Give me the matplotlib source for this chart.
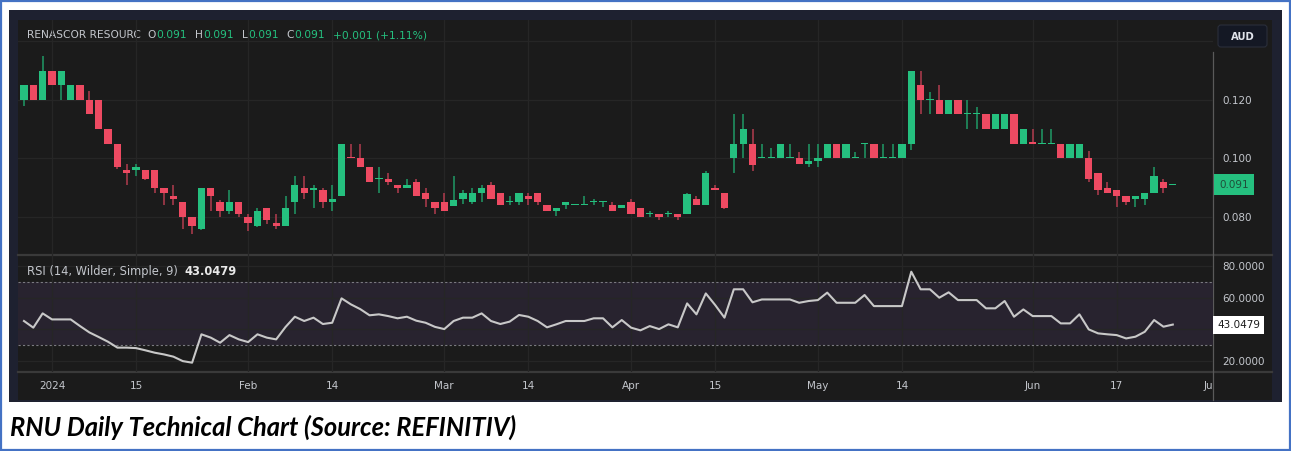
import matplotlib
matplotlib.use("Agg")
import matplotlib.pyplot as plt
import matplotlib.transforms as mtransforms
import numpy as np
import pandas as pd
from matplotlib.patches import Rectangle, FancyBboxPatch

W, H = 1291, 451

# ASX trading days shown on the chart (27 Dec 2023 -> 25 Jun 2024)
holidays = ["2024-01-01", "2024-01-26", "2024-03-29", "2024-04-01", "2024-04-25", "2024-06-10"]
dates = pd.bdate_range("2023-12-27", "2024-06-25")
dates = dates[~dates.isin(pd.to_datetime(holidays))]

opens = [0.120, 0.125, 0.120, 0.130, 0.125, 0.120, 0.125, 0.120, 0.120, 0.110,
         0.105, 0.096, 0.096, 0.096, 0.096, 0.090, 0.0872, 0.085, 0.080, 0.076,
         0.090, 0.085, 0.082, 0.085, 0.080, 0.077, 0.083, 0.078, 0.077, 0.085,
         0.090, 0.089, 0.089, 0.085, 0.087, 0.1005, 0.100, 0.097, 0.093, 0.093,
         0.091, 0.090, 0.092, 0.088, 0.085, 0.085, 0.0838, 0.086, 0.085, 0.088,
         0.091, 0.088, 0.085, 0.085, 0.087, 0.088, 0.084, 0.082, 0.084, 0.084,
         0.084, 0.085, 0.085, 0.084, 0.083, 0.085, 0.083, 0.081, 0.081, 0.081,
         0.081, 0.081, 0.086, 0.084, 0.090, 0.088, 0.100, 0.105, 0.105, 0.100,
         0.100, 0.100, 0.100, 0.100, 0.098, 0.099, 0.100, 0.105, 0.100, 0.100,
         0.105, 0.105, 0.100, 0.100, 0.100, 0.105, 0.125, 0.120, 0.120, 0.115,
         0.120, 0.115, 0.115, 0.115, 0.110, 0.110, 0.115, 0.105, 0.1055, 0.105,
         0.105, 0.105, 0.100, 0.100, 0.100, 0.095, 0.090, 0.089, 0.087, 0.086,
         0.086, 0.088, 0.092, 0.091]
highs = [0.125, 0.125, 0.135, 0.130, 0.130, 0.125, 0.125, 0.123, 0.120, 0.110,
         0.105, 0.098, 0.098, 0.096, 0.096, 0.090, 0.091, 0.085, 0.080, 0.090,
         0.090, 0.0858, 0.089, 0.085, 0.081, 0.083, 0.083, 0.081, 0.087, 0.094,
         0.094, 0.091, 0.090, 0.091, 0.105, 0.105, 0.105, 0.097, 0.097, 0.095,
         0.091, 0.093, 0.093, 0.090, 0.085, 0.088, 0.094, 0.089, 0.090, 0.091,
         0.092, 0.088, 0.087, 0.088, 0.088, 0.088, 0.084, 0.083, 0.085, 0.084,
         0.087, 0.086, 0.085, 0.085, 0.084, 0.086, 0.083, 0.082, 0.081, 0.082,
         0.081, 0.088, 0.087, 0.0955, 0.091, 0.088, 0.115, 0.115, 0.110, 0.105,
         0.1035, 0.105, 0.105, 0.102, 0.105, 0.105, 0.105, 0.105, 0.105, 0.102,
         0.105, 0.105, 0.105, 0.105, 0.105, 0.130, 0.130, 0.1225, 0.125, 0.120,
         0.120, 0.120, 0.1175, 0.115, 0.115, 0.115, 0.115, 0.110, 0.110, 0.110,
         0.110, 0.105, 0.105, 0.105, 0.1025, 0.095, 0.092, 0.089, 0.087, 0.087,
         0.088, 0.097, 0.093, 0.091]
lows = [0.118, 0.120, 0.120, 0.125, 0.120, 0.120, 0.120, 0.115, 0.110, 0.105,
        0.0962, 0.091, 0.094, 0.0925, 0.088, 0.084, 0.084, 0.076, 0.074, 0.0755,
        0.082, 0.080, 0.081, 0.080, 0.075, 0.0765, 0.0775, 0.076, 0.077, 0.081,
        0.086, 0.083, 0.083, 0.082, 0.087, 0.100, 0.097, 0.092, 0.088, 0.091,
        0.088, 0.090, 0.087, 0.0835, 0.081, 0.082, 0.0838, 0.0845, 0.0845, 0.085,
        0.086, 0.084, 0.084, 0.084, 0.084, 0.084, 0.082, 0.0804, 0.0825, 0.084,
        0.084, 0.084, 0.0832, 0.082, 0.083, 0.081, 0.080, 0.080, 0.079, 0.080,
        0.079, 0.081, 0.084, 0.084, 0.089, 0.0825, 0.095, 0.100, 0.0955, 0.100,
        0.100, 0.100, 0.100, 0.098, 0.097, 0.097, 0.100, 0.100, 0.100, 0.100,
        0.100, 0.100, 0.100, 0.100, 0.100, 0.103, 0.115, 0.115, 0.115, 0.115,
        0.115, 0.110, 0.110, 0.110, 0.110, 0.110, 0.105, 0.105, 0.105, 0.105,
        0.105, 0.100, 0.100, 0.100, 0.092, 0.0873, 0.088, 0.0833, 0.084, 0.0835,
        0.084, 0.088, 0.088, 0.091]
closes = [0.125, 0.120, 0.130, 0.125, 0.130, 0.125, 0.120, 0.115, 0.110, 0.105,
          0.097, 0.095, 0.097, 0.093, 0.090, 0.088, 0.086, 0.080, 0.077, 0.090,
          0.087, 0.082, 0.085, 0.081, 0.078, 0.082, 0.079, 0.077, 0.083, 0.091,
          0.088, 0.090, 0.085, 0.086, 0.105, 0.100, 0.097, 0.092, 0.093, 0.092,
          0.090, 0.091, 0.087, 0.086, 0.083, 0.082, 0.0857, 0.088, 0.088, 0.090,
          0.086, 0.084, 0.085, 0.088, 0.086, 0.085, 0.082, 0.083, 0.085, 0.084,
          0.084, 0.085, 0.085, 0.082, 0.084, 0.081, 0.080, 0.081, 0.080, 0.081,
          0.080, 0.0878, 0.084, 0.095, 0.089, 0.083, 0.105, 0.110, 0.0977, 0.100,
          0.100, 0.105, 0.100, 0.098, 0.099, 0.100, 0.105, 0.100, 0.105, 0.100,
          0.105, 0.100, 0.100, 0.100, 0.105, 0.130, 0.120, 0.120, 0.115, 0.120,
          0.115, 0.115, 0.115, 0.110, 0.115, 0.115, 0.105, 0.110, 0.105, 0.105,
          0.105, 0.100, 0.105, 0.105, 0.093, 0.089, 0.088, 0.087, 0.085, 0.087,
          0.088, 0.094, 0.090, 0.091]
rsi = [45.3, 41.1, 50.1, 46.3, 46.3, 46.3, 42.1, 38.1, 35.2, 32.2,
       28.5, 28.5, 28.2, 26.8, 25.3, 24.2, 22.8, 20.0, 19.0, 36.9,
       34.8, 31.6, 36.4, 33.7, 32.0, 36.9, 34.8, 33.7, 41.5, 48.0,
       45.3, 47.4, 43.4, 44.2, 59.6, 55.8, 52.8, 48.9, 49.5, 48.4,
       47.0, 48.0, 45.5, 44.2, 41.6, 40.2, 45.3, 47.4, 47.4, 50.1,
       45.3, 43.4, 44.9, 49.1, 48.0, 45.3, 41.3, 43.2, 45.3, 45.3,
       45.3, 47.0, 47.0, 41.3, 45.9, 41.1, 39.4, 42.1, 40.2, 43.2,
       41.3, 56.4, 49.5, 62.7, 55.4, 47.4, 65.3, 65.3, 57.1, 58.9,
       58.9, 58.9, 58.9, 56.8, 57.9, 58.5, 63.2, 56.8, 56.8, 56.8,
       61.7, 54.7, 54.7, 54.7, 54.7, 76.4, 65.3, 65.3, 60.0, 63.4,
       58.5, 58.5, 58.5, 53.3, 53.3, 57.9, 48.0, 52.6, 48.4, 48.4,
       48.4, 43.8, 43.8, 49.5, 40.0, 37.5, 36.9, 36.4, 34.3, 35.4,
       38.5, 45.9, 41.7, 43.0479]

tick_dates = ["2024-01-02", "2024-01-15", "2024-02-01", "2024-02-14", "2024-03-01", "2024-03-14",
              "2024-04-02", "2024-04-15", "2024-05-01", "2024-05-14", "2024-06-03", "2024-06-17"]
tick_labels = ["2024", "15", "Feb", "14", "Mar", "14", "Apr", "15", "May", "14", "Jun", "17"]
price_ticks = [0.080, 0.100, 0.120, 0.140]
price_labels = ["0.080", "0.100", "0.120", ""]
rsi_ticks = [20, 40, 60, 80]
rsi_labels = ["20.0000", "", "60.0000", "80.0000"]

GREEN = "#25c07f"
RED = "#ee4a62"
BG = "#1b1b1b"
FRAME = "#1e2130"
TXT = "#c3c6cc"

plt.rcParams["font.family"] = ["DejaVu Sans"]

pos = np.arange(len(dates))
o, h, l, c = map(np.array, (opens, highs, lows, closes))
up = c >= o
colors = np.where(up, GREEN, RED)
wick_colors = np.where(up, "#1f9a66", "#b23c4e")

tick_pos = [dates.get_loc(pd.Timestamp(d)) for d in tick_dates]
jul_pos = len(dates) - 1 + np.busday_count("2024-06-25", "2024-07-01")

# pixel geometry of the TradingView panes
bar_px = 9.34
x_first = 52 - 3 * bar_px  # pixel of first bar (27 Dec)
xlim = ((18 - x_first) / bar_px, (1213 - x_first) / bar_px)

fig = plt.figure(figsize=(W / 100, H / 100), dpi=100)
fig.patch.set_facecolor("white")


def px_axes(x0, y0, x1, y1):
    ax = fig.add_axes([x0 / W, 1 - y1 / H, (x1 - x0) / W, (y1 - y0) / H])
    ax.set_facecolor("none")
    return ax


# background layer in pixel coordinates
bg = fig.add_axes([0, 0, 1, 1])
bg.set_xlim(0, W)
bg.set_ylim(H, 0)
bg.axis("off")
bg.add_patch(Rectangle((1, 1), W - 2.5, H - 2.5, fc="none", ec="#4472c4", lw=1.6))
bg.add_patch(Rectangle((9, 10), 1273, 392, fc=FRAME, ec="none"))
bg.add_patch(Rectangle((18, 20), 1254, 380, fc=BG, ec="none"))
bg.plot([18, 1272], [255, 255], color="#3a3a3a", lw=1.6)
bg.plot([18, 1272], [372, 372], color="#3a3a3a", lw=1.6)
bg.plot([1213, 1213], [52, 400], color="#5a5a5a", lw=0.9)
bg.add_patch(FancyBboxPatch((1218, 25), 49, 22, boxstyle="round,pad=0,rounding_size=3",
                            fc="#141824", ec="#2a2e3a", lw=0.8))
bg.text(1242.5, 36.5, "AUD", color="#e0e3ea", fontsize=7.2, fontweight="bold",
        ha="center", va="center")
bg.text(10, 427, "RNU Daily Technical Chart (Source: REFINITIV)", fontsize=18.4,
        fontweight="bold", style="italic", family=["Lato", "DejaVu Sans"],
        color="black", ha="left", va="center")

# ---- price pane
ax = px_axes(18, 20, 1213, 255)
ax.set_xlim(*xlim)
ax.set_ylim(0.1 - (255 - 158.3) / 2925, 0.1 + (158.3 - 20) / 2925)
ax.vlines(pos, l, h, colors=wick_colors, lw=1.1, zorder=2)
ax.bar(pos, np.maximum(np.abs(c - o), 0.00035), bottom=np.minimum(o, c), width=0.78,
       color=colors, edgecolor="none", zorder=3)
ax.set_xticks(tick_pos)
ax.set_xticklabels([])
ax.yaxis.tick_right()
ax.set_yticks(price_ticks)
ax.set_yticklabels(price_labels)
ax.tick_params(length=0, pad=7, labelcolor=TXT, labelsize=7.5)
ax.tick_params(axis="x", length=0)
ax.grid(color="#262626", lw=0.9)
ax.set_axisbelow(True)
for s in ax.spines.values():
    s.set_visible(False)
lab_tr = mtransforms.offset_copy(ax.get_yaxis_transform(), fig=fig, x=6, y=0, units="dots")
ax.text(1.0, closes[-1], f"{closes[-1]:.3f}", transform=lab_tr, fontsize=7.5, color="#1f4f3a",
        ha="left", va="center", bbox=dict(boxstyle="square,pad=0.5", fc=GREEN, ec="none"))

# header (legend) line
change = closes[-1] - closes[-2]
segs = [("RENASCOR RESOURC", TXT, 0), ("O", TXT, 5), (f"{opens[-1]:.3f}", GREEN, 0),
        ("H", TXT, 6), (f"{highs[-1]:.3f}", GREEN, 0), ("L", TXT, 6), (f"{lows[-1]:.3f}", GREEN, 0),
        ("C", TXT, 6), (f"{closes[-1]:.3f}", GREEN, 0),
        (f"+{change:.3f} (+{change / closes[-2] * 100:.2f}%)", GREEN, 6)]
prev = None
for text, col, gap in segs:
    if prev is None:
        prev = bg.text(27, 35, text, color=col, fontsize=7.7, ha="left", va="center")
    else:
        prev = bg.annotate(text, xy=(1, 0), xycoords=prev, xytext=(gap, 0),
                           textcoords="offset points", color=col, fontsize=7.7,
                           ha="left", va="bottom")

# ---- RSI pane
ar = px_axes(18, 255, 1213, 372)
ar.set_xlim(*xlim)
ar.set_ylim(60 - (372 - 297.7) / 1.585, 60 + (297.7 - 255) / 1.585)
ar.axhspan(30, 70, color="#28232f", lw=0, zorder=0)
ar.axhline(70, color="#7a7a80", lw=0.8, ls=(0, (2, 2)), zorder=1)
ar.axhline(30, color="#7a7a80", lw=0.8, ls=(0, (2, 2)), zorder=1)
ar.plot(pos, rsi, color="#c8c8c8", lw=1.5, zorder=3)
ar.set_xticks(tick_pos)
ar.set_xticklabels([])
ar.yaxis.tick_right()
ar.set_yticks(rsi_ticks)
ar.set_yticklabels(rsi_labels)
ar.tick_params(length=0, pad=7, labelcolor=TXT, labelsize=7.5)
ar.grid(color="#262626", lw=0.9)
ar.set_axisbelow(True)
for s in ar.spines.values():
    s.set_visible(False)
rsi_tr = mtransforms.offset_copy(ar.get_yaxis_transform(), fig=fig, x=4, y=0, units="dots")
ar.text(1.0, rsi[-1], f"{rsi[-1]:.4f}", transform=rsi_tr, fontsize=7.5, color="#1b1b1b",
        ha="left", va="center", bbox=dict(boxstyle="square,pad=0.38", fc="white", ec="none"))
t = ar.text(0.0075, 0.86, "RSI (14, Wilder, Simple, 9)", transform=ar.transAxes, color=TXT,
            fontsize=8.3, ha="left", va="center")
ar.annotate(f"{rsi[-1]:.4f}", xy=(1, 0), xycoords=t, xytext=(5, 0), textcoords="offset points",
            color="#e8e8e8", fontsize=8.3, fontweight="bold", ha="left", va="bottom")

# ---- time axis strip
at = px_axes(18, 372, 1213, 400)
at.set_xlim(*xlim)
at.set_ylim(0, 1)
at.axis("off")
for p, lab in zip(tick_pos + [jul_pos], tick_labels + ["Jul"]):
    at.text(p, 0.5, lab, color=TXT, fontsize=7.5, ha="center", va="center", clip_on=True)

fig.savefig("out.png", dpi=100, facecolor=fig.get_facecolor())
